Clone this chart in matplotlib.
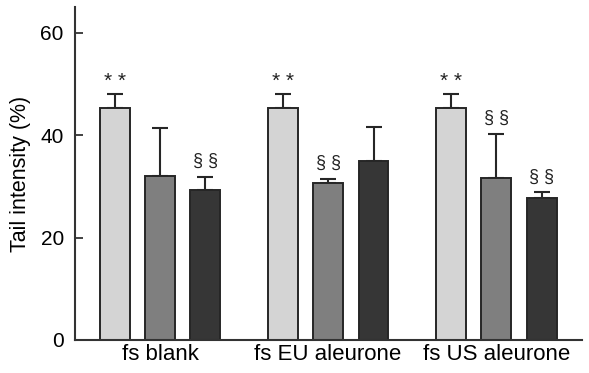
import numpy as np
import matplotlib.pyplot as plt

plt.rcParams['font.family'] = ['Liberation Sans', 'DejaVu Sans']

groups = ['fs blank', 'fs EU aleurone', 'fs US aleurone']
light = [45.3, 45.2, 45.2]
mid = [32.1, 30.6, 31.6]
dark = [29.3, 34.9, 27.7]
light_err = [2.7, 2.8, 2.8]
mid_err = [9.2, 0.9, 8.7]
dark_err = [2.6, 6.7, 1.2]
light_lab = ['* *', '* *', '* *']
mid_lab = ['', '§ §', '§ §']
dark_lab = ['§ §', '', '§ §']

fig = plt.figure(figsize=(5.89, 3.73), dpi=100)
ax = fig.add_axes([0.1273, 0.0885, 0.8607, 0.8925])

x = np.arange(len(groups))
w = 0.178
off = 0.27
series = [(light, light_err, light_lab, '#d4d4d4'),
          (mid, mid_err, mid_lab, '#7f7f7f'),
          (dark, dark_err, dark_lab, '#363636')]
for i, (vals, errs, labs, col) in enumerate(series):
    xs = x + (i - 1) * off
    ax.bar(xs, vals, width=w, color=col, edgecolor='#262626', linewidth=1.4, zorder=2)
    ax.errorbar(xs, vals, yerr=[np.zeros(len(vals)), errs], fmt='none',
                ecolor='#262626', elinewidth=1.5, capsize=5.5, capthick=1.5, zorder=1)
    for xi, v, e, t in zip(xs, vals, errs, labs):
        if t == '* *':
            ax.text(xi, v + e + 0.6, t, ha='center', va='bottom', fontsize=15, color='#222222')
        elif t:
            ax.text(xi, v + e + 1.3, t, ha='center', va='bottom', fontsize=13, color='#222222')

ax.set_xlim(-0.506, 2.51)
ax.set_ylim(0, 65)
ax.set_yticks([0, 20, 40, 60])
ax.set_xticks(x)
ax.set_xticklabels(groups, fontsize=16)
ax.set_ylabel('Tail intensity (%)', fontsize=15.5, labelpad=7)
ax.tick_params(axis='y', direction='in', length=6, width=1.3, labelsize=15, pad=8, color='#333333')
ax.tick_params(axis='x', length=0, pad=3)
for s in ['top', 'right']:
    ax.spines[s].set_visible(False)
for s in ['left', 'bottom']:
    ax.spines[s].set_linewidth(1.5)
    ax.spines[s].set_color('#333333')

fig.savefig('out.png', dpi=100)
